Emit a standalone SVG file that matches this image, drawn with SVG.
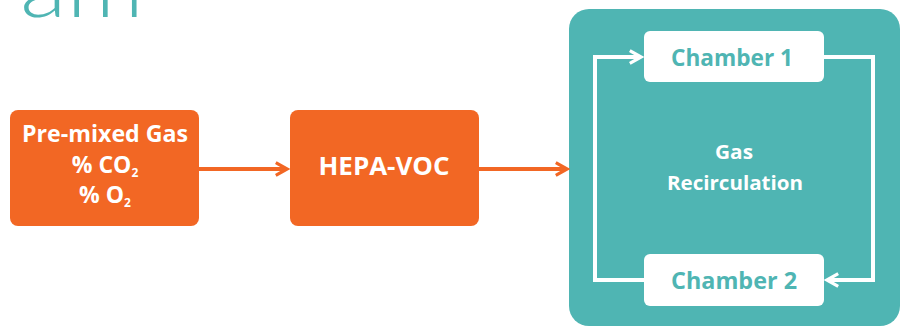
<svg xmlns="http://www.w3.org/2000/svg" width="906" height="327" viewBox="0 0 906 327">
<defs>
<style>
.org{fill:#F26724;}
.wt{fill:#FFFFFF;font-family:"Open Sans",Lato,"Liberation Sans",sans-serif;font-weight:bold;text-anchor:middle;}
.tl{fill:#4FB5B3;font-family:"Open Sans",Lato,"Liberation Sans",sans-serif;font-weight:bold;text-anchor:middle;}
.oc{fill:none;stroke:#F26724;stroke-width:4;}
.wc{fill:none;stroke:#FFFFFF;stroke-width:4;}
</style>
<marker id="ao" viewBox="0 0 10 10" refX="8" refY="5" markerWidth="4" markerHeight="4" orient="auto" markerUnits="strokeWidth">
<path d="M1,1 L8,5 L1,9" fill="none" stroke="#F26724" stroke-width="2"/>
</marker>
<marker id="aw" viewBox="0 0 10 10" refX="8" refY="5" markerWidth="4" markerHeight="4" orient="auto" markerUnits="strokeWidth">
<path d="M1,1 L8,5 L1,9" fill="none" stroke="#FFFFFF" stroke-width="2"/>
</marker>
</defs>
<rect width="906" height="327" fill="#FFFFFF"/>
<text x="20" y="17" textLength="124" lengthAdjust="spacingAndGlyphs" fill="#4FB5B3" font-family="Lato,'Open Sans','Liberation Sans',sans-serif" font-weight="300" font-size="80">am</text>
<g id="container">
<rect x="569" y="9" width="331" height="317" rx="20" fill="#4FB5B3"/>
<text class="wt" font-size="20" x="734" y="159" textLength="38" lengthAdjust="spacingAndGlyphs">Gas</text>
<text class="wt" font-size="20" x="735" y="190" textLength="136" lengthAdjust="spacingAndGlyphs">Recirculation</text>
</g>
<g id="connectors">
<line class="oc" x1="199" y1="169" x2="287" y2="169" marker-end="url(#ao)"/>
<line class="oc" x1="479" y1="169" x2="567" y2="169" marker-end="url(#ao)"/>
<polyline class="wc" points="644,280 595,280 595,57 641,57" marker-end="url(#aw)"/>
<polyline class="wc" points="824,57 873,57 873,280 827,280" marker-end="url(#aw)"/>
</g>
<g id="premixed">
<rect class="org" x="10" y="110" width="189" height="116" rx="8"/>
<text class="wt" font-size="23" x="105" y="142" textLength="166" lengthAdjust="spacingAndGlyphs">Pre-mixed Gas</text>
<text class="wt" font-size="23" x="105" y="173">% CO<tspan font-size="12" dy="4">2</tspan></text>
<text class="wt" font-size="23" x="105" y="203">% O<tspan font-size="12" dy="4">2</tspan></text>
</g>
<g id="hepa">
<rect class="org" x="290" y="110" width="189" height="116" rx="8"/>
<text class="wt" font-size="25" x="384" y="175" textLength="131" lengthAdjust="spacingAndGlyphs">HEPA-VOC</text>
</g>
<g id="chamber1">
<rect x="644" y="31" width="180" height="51" rx="6" fill="#FFFFFF"/>
<text class="tl" font-size="24" x="732" y="66" textLength="122" lengthAdjust="spacingAndGlyphs">Chamber 1</text>
</g>
<g id="chamber2">
<rect x="644" y="254" width="180" height="52" rx="6" fill="#FFFFFF"/>
<text class="tl" font-size="24" x="734" y="289" textLength="126" lengthAdjust="spacingAndGlyphs">Chamber 2</text>
</g>
</svg>
